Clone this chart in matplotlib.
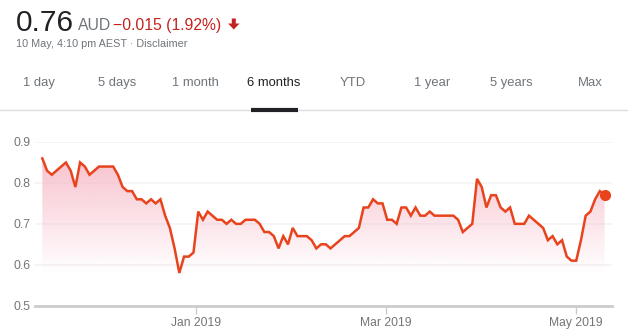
import numpy as np
import matplotlib
matplotlib.use("Agg")
import matplotlib.pyplot as plt
from matplotlib.colors import to_rgb
from matplotlib.patches import Polygon

# ---- data ----
prices = [0.86, 0.83, 0.82, 0.83, 0.84, 0.85, 0.83, 0.79, 0.85, 0.84,
          0.82, 0.83, 0.84, 0.84, 0.84, 0.84, 0.82, 0.79, 0.78, 0.78,
          0.76, 0.76, 0.75, 0.76, 0.75, 0.76, 0.72, 0.69, 0.64, 0.58,
          0.62, 0.62, 0.63, 0.73, 0.71, 0.73, 0.72, 0.71, 0.71, 0.70,
          0.71, 0.70, 0.70, 0.71, 0.71, 0.71, 0.70, 0.68, 0.68, 0.67,
          0.64, 0.67, 0.65, 0.69, 0.67, 0.67, 0.67, 0.66, 0.64, 0.65,
          0.65, 0.64, 0.65, 0.66, 0.67, 0.67, 0.68, 0.69, 0.74, 0.74,
          0.76, 0.75, 0.75, 0.71, 0.71, 0.70, 0.74, 0.74, 0.72, 0.74,
          0.72, 0.72, 0.73, 0.72, 0.72, 0.72, 0.72, 0.72, 0.71, 0.68,
          0.69, 0.70, 0.81, 0.79, 0.74, 0.77, 0.77, 0.74, 0.73, 0.74,
          0.70, 0.70, 0.70, 0.72, 0.71, 0.70, 0.69, 0.66, 0.67, 0.65,
          0.66, 0.62, 0.61, 0.61, 0.66, 0.72, 0.73, 0.76, 0.78, 0.77]
month_tick_index = [32.6, 72.8, 112.9]   # trading-day position of month starts
month_tick_labels = ["Jan 2019", "Mar 2019", "May 2019"]
y_ticks = [0.5, 0.6, 0.7, 0.8, 0.9]
y_tick_labels = ["0.5", "0.6", "0.7", "0.8", "0.9"]
tabs = ["1 day", "5 days", "1 month", "6 months", "YTD", "1 year", "5 years", "Max"]
selected_tab = "6 months"
price_text = "0.76"
currency = "AUD"
change_text = "\u22120.015 (1.92%)"
date_text = "10 May, 4:10 pm AEST \u00b7 Disclaimer"

plt.rcParams['font.family'] = ['Liberation Sans', 'DejaVu Sans']

W, H = 628, 334
fig = plt.figure(figsize=(W / 100, H / 100), dpi=100)

def fx(px):
    return px / W

def fy(py):
    return 1 - py / H

LINE = "#e8431c"
RED = "#c5221f"
GREY = "#70757a"

# overlay axes in pixel coordinates for decorations
sep = fig.add_axes([0, 0, 1, 1], facecolor="none")
sep.set_xlim(0, W)
sep.set_ylim(H, 0)
sep.axis("off")

# ---- header ----
fig.text(fx(16), fy(31), price_text, fontsize=21.5, color="#202124", va="baseline", ha="left")
fig.text(fx(78), fy(30), currency, fontsize=11.3, color=GREY, va="baseline", ha="left")
fig.text(fx(113), fy(30), change_text, fontsize=11.3, color=RED, va="baseline", ha="left")
arrow = Polygon([[231.8, 18.5], [235.8, 18.5], [235.8, 23.5], [239.5, 23.5],
                 [233.8, 29.5], [228.1, 23.5], [231.8, 23.5]],
                closed=True, facecolor=RED, edgecolor="none")
sep.add_patch(arrow)
fig.text(fx(16), fy(47), date_text, fontsize=7.8, color=GREY, va="baseline", ha="left")

# ---- tabs ----
tab_centers = [39, 117, 195, 274, 353, 432, 511, 590]
for name, cx in zip(tabs, tab_centers):
    col = "#202124" if name == selected_tab else GREY
    fig.text(fx(cx), fy(86), name, fontsize=9.4, color=col, va="baseline", ha="center")

sep.plot([0, W], [110, 110], color="#dadce0", lw=1)
sep.plot([251, 298], [110, 110], color="#202124", lw=3, solid_capstyle="butt")

# ---- chart ----
x = np.arange(len(prices))
y = np.array(prices)
step = 4.725
x0_px = 42.3
xl = (35 - x0_px) / step
xr = (612 - x0_px) / step
ax = fig.add_axes([fx(35), 1 - 305.7 / H, (612 - 35) / W, (305.7 - 142) / H])
ax.set_xlim(xl, xr)
ax.set_ylim(0.5, 0.9)
for s in ["top", "right", "left"]:
    ax.spines[s].set_visible(False)
ax.spines["bottom"].set_color("#cccccc")
ax.spines["bottom"].set_linewidth(2)

for v in y_ticks[1:]:
    ax.axhline(v, color="#f3f3f3", lw=1.2, zorder=0)

# gradient fill under the line
pink = np.array(to_rgb("#f7b8c6"))
ny = 200
yy = np.linspace(0.5, 0.9, ny)
alpha = np.clip((yy - 0.58) / (0.86 - 0.58), 0, 1) * 0.85
img = np.zeros((ny, 2, 4))
img[:, :, :3] = pink
img[:, :, 3] = alpha[:, None]
im = ax.imshow(img, extent=[x[0], x[-1], 0.5, 0.9], origin="lower", aspect="auto",
               zorder=1, interpolation="bilinear")
poly = ax.fill_between(x, y, 0.5, color="none", lw=0)
path = poly.get_paths()[0]
im.set_clip_path(path, transform=ax.transData)

ax.plot(x, y, color=LINE, lw=1.8, zorder=3, solid_joinstyle="miter")
ax.plot([x[-1]], [y[-1]], "o", color=LINE, ms=7, zorder=4)

ax.set_yticks(y_ticks)
ax.set_yticklabels(y_tick_labels)
ax.tick_params(axis="y", length=0, pad=3, labelsize=8.7, labelcolor="#757575")
ax.set_xticks(month_tick_index)
ax.set_xticklabels(month_tick_labels)
ax.tick_params(axis="x", length=6, width=1, color="#cccccc", pad=2,
               labelsize=8.7, labelcolor="#757575")

fig.savefig("out.png", dpi=100)
